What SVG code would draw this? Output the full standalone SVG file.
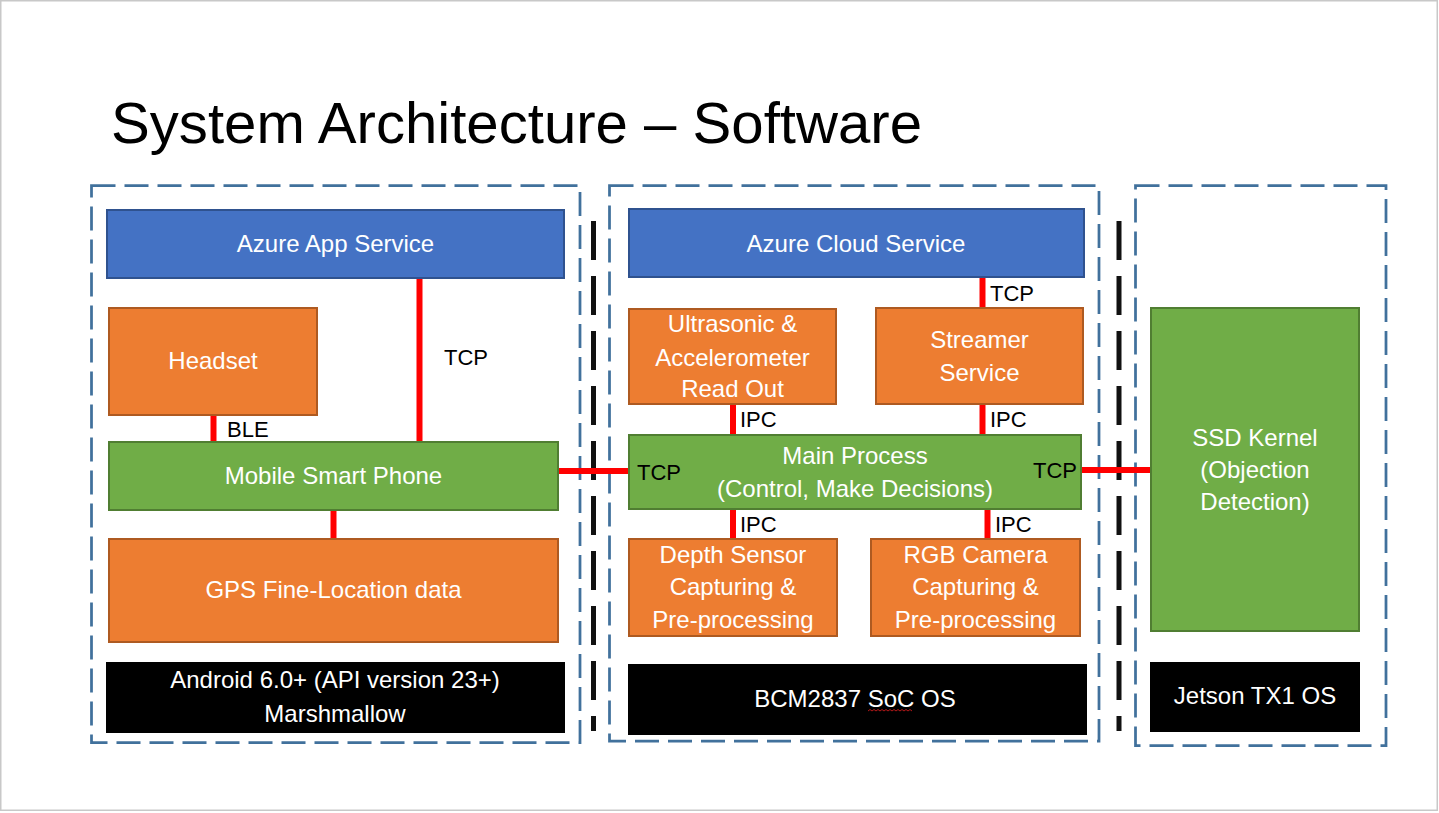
<svg xmlns="http://www.w3.org/2000/svg" width="1439" height="813" viewBox="0 0 1439 813">
  <style>
    .t { font-family: "Liberation Sans", Arial, sans-serif; }
    .box-text { font-family: "Liberation Sans", Arial, sans-serif; font-size: 24px; fill: #ffffff; text-anchor: middle; }
    .lbl { font-family: "Liberation Sans", Arial, sans-serif; font-size: 22px; fill: #000000; }
    .blue { fill: #4472C4; stroke: #2F528F; stroke-width: 2; }
    .orange { fill: #ED7D31; stroke: #AE5A21; stroke-width: 2; }
    .green { fill: #70AD47; stroke: #507E32; stroke-width: 2; }
    .os { fill: #000000; }
    .container { fill: none; stroke: #41719C; stroke-width: 2.75; stroke-dasharray: 24 9; }
    .sep { fill: none; stroke: #111111; stroke-width: 5; stroke-dasharray: 39 16; }
    .link { fill: none; stroke: #FF0000; stroke-width: 6; }
  </style>

  <rect x="0" y="0" width="1439" height="813" fill="#ffffff"/>
  <rect x="0.75" y="0.75" width="1436.5" height="809.5" fill="none" stroke="#c8c8c8" stroke-width="1.5"/>

  <text id="title" class="t" x="111" y="143" font-size="58" fill="#000000" textLength="811" lengthAdjust="spacingAndGlyphs">System Architecture – Software</text>

  <g id="containers">
    <rect id="container-android" class="container" x="91.5" y="185.5" width="488.5" height="557"/>
    <rect id="container-bcm" class="container" x="609.5" y="185.5" width="489.5" height="555.5"/>
    <rect id="container-jetson" class="container" x="1135.5" y="185.5" width="250.5" height="560"/>
    <line class="sep" x1="593.5" y1="221" x2="593.5" y2="731"/>
    <line class="sep" x1="1119" y1="221" x2="1119" y2="731"/>
  </g>

  <g id="connectors">
    <line class="link" x1="419.5" y1="278" x2="419.5" y2="442"/>
    <text class="lbl" x="444" y="365">TCP</text>
    <line class="link" x1="213.5" y1="415" x2="213.5" y2="442"/>
    <text class="lbl" x="227" y="437">BLE</text>
    <line class="link" x1="333.5" y1="510" x2="333.5" y2="539"/>
    <line class="link" x1="558" y1="471" x2="629" y2="471"/>
    <line class="link" x1="982.5" y1="277" x2="982.5" y2="308"/>
    <text class="lbl" x="990" y="301">TCP</text>
    <line class="link" x1="733" y1="404" x2="733" y2="435"/>
    <text class="lbl" x="740" y="427">IPC</text>
    <line class="link" x1="982.5" y1="404" x2="982.5" y2="435"/>
    <text class="lbl" x="990" y="427">IPC</text>
    <line class="link" x1="733" y1="509" x2="733" y2="539"/>
    <text class="lbl" x="740" y="532">IPC</text>
    <line class="link" x1="987.5" y1="509" x2="987.5" y2="539"/>
    <text class="lbl" x="995" y="532">IPC</text>
    <line class="link" x1="1081" y1="470" x2="1151" y2="470"/>
  </g>

  <g id="azure-app-service">
    <rect class="blue" x="107" y="210" width="457" height="68"/>
    <text class="box-text" x="335.5" y="252">Azure App Service</text>
  </g>
  <g id="headset">
    <rect class="orange" x="109" y="308" width="208" height="107"/>
    <text class="box-text" x="213" y="369">Headset</text>
  </g>
  <g id="mobile-smart-phone">
    <rect class="green" x="109" y="442" width="449" height="68"/>
    <text class="box-text" x="333.5" y="484">Mobile Smart Phone</text>
  </g>
  <g id="gps">
    <rect class="orange" x="109" y="539" width="449" height="103"/>
    <text class="box-text" x="333.5" y="598">GPS Fine-Location data</text>
  </g>
  <g id="android-os">
    <rect class="os" x="106" y="662" width="459" height="71"/>
    <text class="box-text" x="335" y="688">Android 6.0+ (API version 23+)</text>
    <text class="box-text" x="335" y="722">Marshmallow</text>
  </g>

  <g id="azure-cloud-service">
    <rect class="blue" x="629" y="209" width="455" height="68"/>
    <text class="box-text" x="856" y="252">Azure Cloud Service</text>
  </g>
  <g id="ultrasonic">
    <rect class="orange" x="629" y="309" width="207" height="95"/>
    <text class="box-text" x="732.5" y="332">Ultrasonic &amp;</text>
    <text class="box-text" x="732.5" y="366">Accelerometer</text>
    <text class="box-text" x="732.5" y="397">Read Out</text>
  </g>
  <g id="streamer-service">
    <rect class="orange" x="876" y="308" width="207" height="96"/>
    <text class="box-text" x="979.5" y="348">Streamer</text>
    <text class="box-text" x="979.5" y="381">Service</text>
  </g>
  <g id="main-process">
    <rect class="green" x="629" y="435" width="452" height="74"/>
    <text class="box-text" x="855" y="464">Main Process</text>
    <text class="box-text" x="855" y="497">(Control, Make Decisions)</text>
    <text class="lbl" x="637" y="480">TCP</text>
    <text class="lbl" x="1077" y="478" text-anchor="end">TCP</text>
  </g>
  <g id="depth-sensor">
    <rect class="orange" x="629" y="539" width="208" height="97"/>
    <text class="box-text" x="733" y="563">Depth Sensor</text>
    <text class="box-text" x="733" y="595">Capturing &amp;</text>
    <text class="box-text" x="733" y="628">Pre-processing</text>
  </g>
  <g id="rgb-camera">
    <rect class="orange" x="871" y="539" width="209" height="97"/>
    <text class="box-text" x="975.5" y="563">RGB Camera</text>
    <text class="box-text" x="975.5" y="595">Capturing &amp;</text>
    <text class="box-text" x="975.5" y="628">Pre-processing</text>
  </g>
  <g id="bcm-os">
    <rect class="os" x="628" y="664" width="459" height="71"/>
    <text class="box-text" x="855" y="707">BCM2837 SoC OS</text>
    <path d="M868 711 l2 -1.5 l2 1.5 l2 -1.5 l2 1.5 l2 -1.5 l2 1.5 l2 -1.5 l2 1.5 l2 -1.5 l2 1.5 l2 -1.5 l2 1.5 l2 -1.5 l2 1.5 l2 -1.5 l2 1.5 l2 -1.5 l2 1.5 l2 -1.5 l2 1.5 l2 -1.5 l2 1.5" fill="none" stroke="#e02020" stroke-width="0.8"/>
  </g>

  <g id="ssd-kernel">
    <rect class="green" x="1151" y="308" width="208" height="323"/>
    <text class="box-text" x="1255" y="446">SSD Kernel</text>
    <text class="box-text" x="1255" y="478">(Objection</text>
    <text class="box-text" x="1255" y="510">Detection)</text>
  </g>
  <g id="jetson-os">
    <rect class="os" x="1150" y="662" width="210" height="70"/>
    <text class="box-text" x="1255" y="704">Jetson TX1 OS</text>
  </g>
</svg>
